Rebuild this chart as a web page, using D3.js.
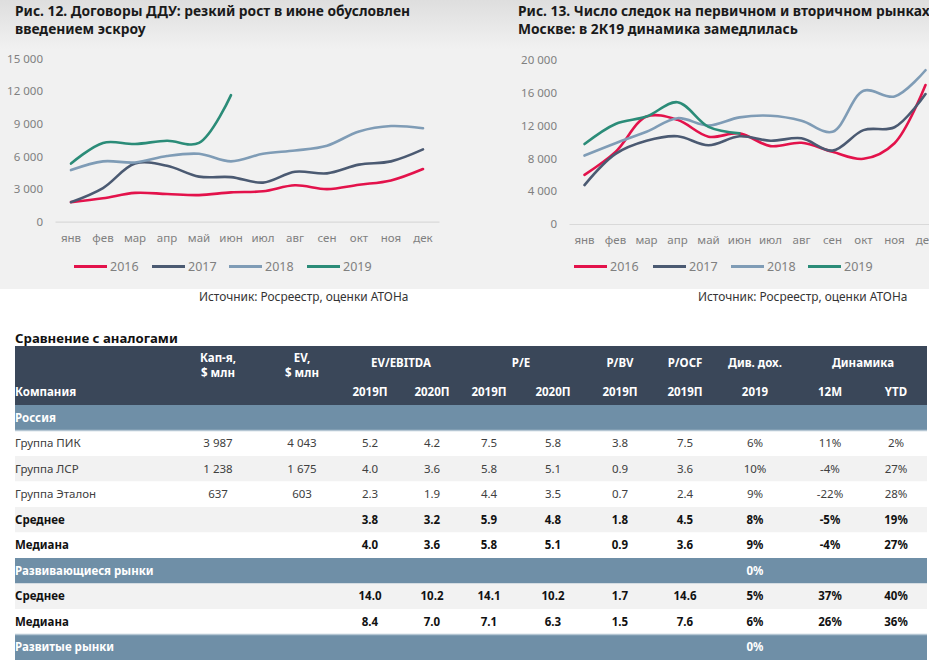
<!DOCTYPE html>
<html><head><meta charset="utf-8">
<script src="https://cdn.jsdelivr.net/npm/d3@7/dist/d3.min.js"></script>
<style>
body{margin:0;background:#fff;}
svg{display:block;font-family:"Noto Sans","Open Sans",sans-serif;}
</style></head>
<body>
<svg id="c" width="929" height="660"></svg>
<script>
// ---------- DATA ----------
const months = ["янв","фев","мар","апр","май","июн","июл","авг","сен","окт","ноя","дек"];
const years = ["2016","2017","2018","2019"];
const colors = ["#e3124b","#4b5a72","#7f9cb6","#2b8c78"];

// Fig 12: DDU contracts
const ddu2016 = [1800,2150,2650,2550,2450,2700,2800,3350,3000,3400,3800,4850];
const ddu2017 = [1800,3100,5350,5150,4150,4100,3600,4600,4450,5250,5550,6650];
const ddu2018 = [4750,5550,5450,6050,6250,5550,6250,6550,7000,8300,8800,8600];
const ddu2019 = [5350,7250,7150,7450,7250,11650];
const dduTicks = [0,3000,6000,9000,12000,15000];

// Fig 13: deals in Moscow
const deals2016 = [6000,8800,13100,12700,10650,11050,9500,9900,8800,7950,9850,16950];
const deals2017 = [4750,8550,10150,10700,9600,10700,10150,10450,8950,11450,11800,15850];
const deals2018 = [8350,9850,11250,12900,12000,13000,13200,12600,11250,16250,15550,18750];
const deals2019 = [9750,12200,13100,14850,11850,11050];
const dealsTicks = [0,4000,8000,12000,16000,20000];

// Table
const tableGroups = ["Кап-я,|$ млн","EV,|$ млн","EV/EBITDA","P/E","P/BV","P/OCF","Див. дох.","Динамика"];
const tableSubHeads = ["","","2019П","2020П","2019П","2020П","2019П","2019П","2019","12М","YTD"];
const rowNames = ["Россия","Группа ПИК","Группа ЛСР","Группа Эталон","Среднее","Медиана","Развивающиеся рынки","Среднее","Медиана","Развитые рынки"];
const rowKinds = ["section","plain","plain","plain","bold","bold","section","bold","bold","section"];
const rowValues = [
  ["","","","","","","","","","",""],
  ["3 987","4 043","5.2","4.2","7.5","5.8","3.8","7.5","6%","11%","2%"],
  ["1 238","1 675","4.0","3.6","5.8","5.1","0.9","3.6","10%","-4%","27%"],
  ["637","603","2.3","1.9","4.4","3.5","0.7","2.4","9%","-22%","28%"],
  ["","","3.8","3.2","5.9","4.8","1.8","4.5","8%","-5%","19%"],
  ["","","4.0","3.6","5.8","5.1","0.9","3.6","9%","-4%","27%"],
  ["","","","","","","","","0%","",""],
  ["","","14.0","10.2","14.1","10.2","1.7","14.6","5%","37%","40%"],
  ["","","8.4","7.0","7.1","6.3","1.5","7.6","6%","26%","36%"],
  ["","","","","","","","","0%","",""]
];

// ---------- DRAW ----------
const svg = d3.select("#c");
const defs = svg.append("defs");
const g = defs.append("linearGradient").attr("id","bg").attr("x1",0).attr("x2",0).attr("y1",0).attr("y2",1);
g.append("stop").attr("offset","0").attr("stop-color","#dedede");
g.append("stop").attr("offset","0.17").attr("stop-color","#f1f1f1");
g.append("stop").attr("offset","1").attr("stop-color","#f1f1f1");
svg.append("rect").attr("x",0).attr("y",0).attr("width",929).attr("height",289).attr("fill","url(#bg)");

const fmt = v => d3.format(",")(v).replace(/,/g," ");

function lineChart(opt){
  const x = d3.scaleBand().domain(months).range([opt.x0,opt.x1]);
  const y = d3.scaleLinear().domain([0,opt.ticks[opt.ticks.length-1]]).range([opt.y0,opt.y1]);
  const root = svg.append("g");
  // titles
  opt.title.forEach((t,i)=>root.append("text").attr("x",opt.tx).attr("y",16+i*18)
    .attr("font-size",13.8).attr("font-weight","bold").attr("fill","#1a1a1a").text(t));
  // y axis
  const ya = root.append("g").attr("transform",`translate(${opt.lx},0)`)
    .call(d3.axisLeft(y).tickValues(opt.ticks).tickFormat(fmt).tickSize(0).tickPadding(0));
  ya.select(".domain").remove();
  ya.selectAll("text").attr("font-size",11.5).attr("fill","#808080").attr("font-family","Noto Sans, sans-serif");
  // x axis
  const xa = root.append("g").attr("transform",`translate(0,${opt.y0})`)
    .call(d3.axisBottom(x).tickSize(0).tickPadding(12));
  xa.select(".domain").attr("stroke","#d9d9d9").attr("stroke-width",1.2);
  xa.selectAll("text").attr("font-size",11.5).attr("fill","#808080").attr("font-family","Noto Sans, sans-serif");
  const line = d3.line().x((d,i)=>x(months[i])+x.bandwidth()/2).y(d=>y(d)).curve(d3.curveCatmullRom.alpha(0.5));
  opt.series.forEach((s,i)=>{
    root.append("path").attr("d",line(s)).attr("fill","none").attr("stroke",colors[i])
      .attr("stroke-width",2.6).attr("stroke-linejoin","round").attr("stroke-linecap","round");
  });
  // legend
  years.forEach((yr,i)=>{
    const lx = opt.legX[i];
    root.append("line").attr("x1",lx).attr("x2",lx+33).attr("y1",opt.legY).attr("y2",opt.legY)
      .attr("stroke",colors[i]).attr("stroke-width",3);
    root.append("text").attr("x",lx+36).attr("y",opt.legY+4.5).attr("font-size",12.5).attr("fill","#808080").text(yr);
  });
  root.append("text").attr("x",opt.srcX).attr("y",301).attr("font-size",11.9).attr("fill","#333").text("Источник: Росреестр, оценки АТОНа");
}

lineChart({title:["Рис. 12. Договоры ДДУ: резкий рост в июне обусловлен","введением эскроу"], tx:15,
  x0:55,x1:439,y0:221.7,y1:58.7,lx:43,ticks:dduTicks,
  series:[ddu2016,ddu2017,ddu2018,ddu2019], legX:[74,152,229,307], legY:266.5, srcX:199});
lineChart({title:["Рис. 13. Число следок на первичном и вторичном рынках в","Москве: в 2К19 динамика замедлилась"], tx:518,
  x0:569,x1:941,y0:224,y1:60,lx:557,ticks:dealsTicks,
  series:[deals2016,deals2017,deals2018,deals2019], legX:[574,653,731,808], legY:266.5, srcX:698});

// ---------- TABLE ----------
const T = svg.append("g");
T.append("text").attr("x",15).attr("y",343).attr("font-size",13.2).attr("font-weight","bold").attr("fill","#111").text("Сравнение с аналогами");
const tx0 = 15, tx1 = 927;
const colX = [218,302,370,432,489,553,620,685,755,830,896];
const groupX = [218,302,401,521,620,685,755,863];
T.append("rect").attr("x",tx0).attr("y",346).attr("width",tx1-tx0).attr("height",59).attr("fill","#3a4759");
tableGroups.forEach((t,i)=>{
  const parts = t.split("|");
  parts.forEach((p,j)=>{
    T.append("text").attr("x",groupX[i]).attr("y",parts.length>1 ? 362+j*14.5 : 367)
      .attr("text-anchor","middle").attr("font-size",11.5).attr("font-weight","bold").attr("fill","#fff").text(p);
  });
});
T.append("text").attr("x",15).attr("y",396).attr("font-size",11.5).attr("font-weight","bold").attr("fill","#fff").text("Компания");
tableSubHeads.forEach((t,i)=>{ if(t) T.append("text").attr("x",colX[i]).attr("y",396).attr("text-anchor","middle")
  .attr("font-size",11.5).attr("font-weight","bold").attr("fill","#fff").text(t);});

const ry = d3.scaleBand().domain(d3.range(rowNames.length)).range([405,660]);
let stripe = 0;
rowNames.forEach((name,i)=>{
  const y = ry(i), h = ry.bandwidth(), kind = rowKinds[i];
  let fill = "#ffffff";
  if(kind==="section") fill = "#6f8fa7";
  else { fill = (stripe%2===1) ? "#f2f2f2" : "#ffffff"; stripe++; }
  T.append("rect").attr("x",tx0).attr("y",y).attr("width",tx1-tx0).attr("height",h).attr("fill",fill);
  const tc = kind==="section" ? "#ffffff" : (kind==="bold" ? "#111" : "#404040");
  const fw = kind==="plain" ? "normal" : "bold";
  T.append("text").attr("x",15).attr("y",y+h/2+4.2).attr("font-size",11.5).attr("font-weight",fw).attr("fill",tc).text(name);
  rowValues[i].forEach((v,j)=>{ if(v) T.append("text").attr("x",colX[j]).attr("y",y+h/2+4.2).attr("text-anchor","middle")
    .attr("font-size",11.5).attr("font-weight",fw).attr("fill",tc).text(v);});
});
// light separators
[ry(1), ry(9)].forEach(yy=>T.append("line").attr("x1",tx0).attr("x2",tx1).attr("y1",yy).attr("y2",yy).attr("stroke","#b5c6d3").attr("stroke-width",1.5));
</script>
</body></html>
